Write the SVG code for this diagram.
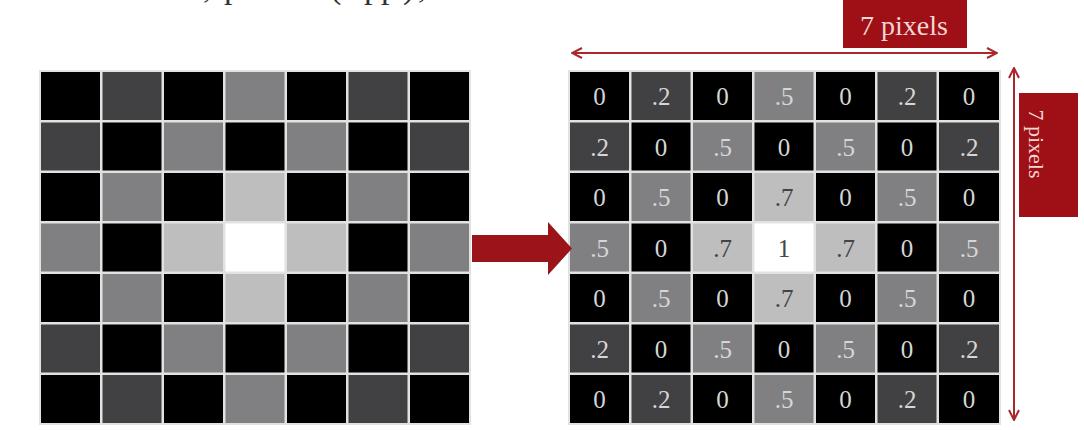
<svg xmlns="http://www.w3.org/2000/svg" width="1084" height="430" viewBox="0 0 1084 430">
<defs>
<style>
.B{fill:#000}.D{fill:#414042}.M{fill:#808082}.L{fill:#bebebe}.W{fill:#fff}
.t{font-family:"Liberation Serif",serif;font-size:25px;text-anchor:middle;fill:#d6d6d6}
.td{fill:#444}
.lbl{font-family:"Liberation Serif",serif;text-anchor:middle;fill:#f3d6d6}
.dim{stroke:#a8282c;stroke-width:2;fill:none}
</style>
<marker id="ah" viewBox="0 0 12 12" refX="11" refY="6" markerWidth="12" markerHeight="12" markerUnits="userSpaceOnUse" orient="auto-start-reverse">
<path d="M1,1 L11,6 L1,11" fill="none" stroke="#a8282c" stroke-width="2"/>
</marker>
</defs>
<rect width="1084" height="430" fill="#fff"/>
<text font-family="Liberation Serif,serif" font-size="34" fill="#333"><tspan x="203" y="-2">,</tspan><tspan x="224" y="-2">p</tspan><tspan x="330" y="-2">(</tspan><tspan x="364" y="-2">p</tspan><tspan x="381" y="-2">p</tspan><tspan x="403" y="-2">)</tspan><tspan x="418" y="-2">,</tspan></text>

<g id="input-image">
<rect x="39" y="70" width="432" height="355" fill="#e2e2e2"/>
<g>
<rect class="B" x="41" y="72" width="59" height="48"/><rect class="D" x="102.5" y="72" width="59" height="48"/><rect class="B" x="164" y="72" width="59" height="48"/><rect class="M" x="225.5" y="72" width="59" height="48"/><rect class="B" x="287" y="72" width="59" height="48"/><rect class="D" x="348.5" y="72" width="59" height="48"/><rect class="B" x="410" y="72" width="59" height="48"/>
<rect class="D" x="41" y="122.5" width="59" height="48"/><rect class="B" x="102.5" y="122.5" width="59" height="48"/><rect class="M" x="164" y="122.5" width="59" height="48"/><rect class="B" x="225.5" y="122.5" width="59" height="48"/><rect class="M" x="287" y="122.5" width="59" height="48"/><rect class="B" x="348.5" y="122.5" width="59" height="48"/><rect class="D" x="410" y="122.5" width="59" height="48"/>
<rect class="B" x="41" y="173" width="59" height="48"/><rect class="M" x="102.5" y="173" width="59" height="48"/><rect class="B" x="164" y="173" width="59" height="48"/><rect class="L" x="225.5" y="173" width="59" height="48"/><rect class="B" x="287" y="173" width="59" height="48"/><rect class="M" x="348.5" y="173" width="59" height="48"/><rect class="B" x="410" y="173" width="59" height="48"/>
<rect class="M" x="41" y="223.5" width="59" height="48"/><rect class="B" x="102.5" y="223.5" width="59" height="48"/><rect class="L" x="164" y="223.5" width="59" height="48"/><rect class="W" x="225.5" y="223.5" width="59" height="48"/><rect class="L" x="287" y="223.5" width="59" height="48"/><rect class="B" x="348.5" y="223.5" width="59" height="48"/><rect class="M" x="410" y="223.5" width="59" height="48"/>
<rect class="B" x="41" y="274" width="59" height="48"/><rect class="M" x="102.5" y="274" width="59" height="48"/><rect class="B" x="164" y="274" width="59" height="48"/><rect class="L" x="225.5" y="274" width="59" height="48"/><rect class="B" x="287" y="274" width="59" height="48"/><rect class="M" x="348.5" y="274" width="59" height="48"/><rect class="B" x="410" y="274" width="59" height="48"/>
<rect class="D" x="41" y="324.5" width="59" height="48"/><rect class="B" x="102.5" y="324.5" width="59" height="48"/><rect class="M" x="164" y="324.5" width="59" height="48"/><rect class="B" x="225.5" y="324.5" width="59" height="48"/><rect class="M" x="287" y="324.5" width="59" height="48"/><rect class="B" x="348.5" y="324.5" width="59" height="48"/><rect class="D" x="410" y="324.5" width="59" height="48"/>
<rect class="B" x="41" y="375" width="59" height="48"/><rect class="D" x="102.5" y="375" width="59" height="48"/><rect class="B" x="164" y="375" width="59" height="48"/><rect class="M" x="225.5" y="375" width="59" height="48"/><rect class="B" x="287" y="375" width="59" height="48"/><rect class="D" x="348.5" y="375" width="59" height="48"/><rect class="B" x="410" y="375" width="59" height="48"/>
</g>
</g>

<g id="output-matrix">
<rect x="568" y="70" width="433" height="355" fill="#e2e2e2"/>
<g>
<rect class="B" x="570" y="72" width="59" height="48"/><rect class="D" x="631.5" y="72" width="59" height="48"/><rect class="B" x="693" y="72" width="59" height="48"/><rect class="M" x="754.5" y="72" width="59" height="48"/><rect class="B" x="816" y="72" width="59" height="48"/><rect class="D" x="877.5" y="72" width="59" height="48"/><rect class="B" x="939" y="72" width="60" height="48"/>
<rect class="D" x="570" y="122.5" width="59" height="48"/><rect class="B" x="631.5" y="122.5" width="59" height="48"/><rect class="M" x="693" y="122.5" width="59" height="48"/><rect class="B" x="754.5" y="122.5" width="59" height="48"/><rect class="M" x="816" y="122.5" width="59" height="48"/><rect class="B" x="877.5" y="122.5" width="59" height="48"/><rect class="D" x="939" y="122.5" width="60" height="48"/>
<rect class="B" x="570" y="173" width="59" height="48"/><rect class="M" x="631.5" y="173" width="59" height="48"/><rect class="B" x="693" y="173" width="59" height="48"/><rect class="L" x="754.5" y="173" width="59" height="48"/><rect class="B" x="816" y="173" width="59" height="48"/><rect class="M" x="877.5" y="173" width="59" height="48"/><rect class="B" x="939" y="173" width="60" height="48"/>
<rect class="M" x="570" y="223.5" width="59" height="48"/><rect class="B" x="631.5" y="223.5" width="59" height="48"/><rect class="L" x="693" y="223.5" width="59" height="48"/><rect class="W" x="754.5" y="223.5" width="59" height="48"/><rect class="L" x="816" y="223.5" width="59" height="48"/><rect class="B" x="877.5" y="223.5" width="59" height="48"/><rect class="M" x="939" y="223.5" width="60" height="48"/>
<rect class="B" x="570" y="274" width="59" height="48"/><rect class="M" x="631.5" y="274" width="59" height="48"/><rect class="B" x="693" y="274" width="59" height="48"/><rect class="L" x="754.5" y="274" width="59" height="48"/><rect class="B" x="816" y="274" width="59" height="48"/><rect class="M" x="877.5" y="274" width="59" height="48"/><rect class="B" x="939" y="274" width="60" height="48"/>
<rect class="D" x="570" y="324.5" width="59" height="48"/><rect class="B" x="631.5" y="324.5" width="59" height="48"/><rect class="M" x="693" y="324.5" width="59" height="48"/><rect class="B" x="754.5" y="324.5" width="59" height="48"/><rect class="M" x="816" y="324.5" width="59" height="48"/><rect class="B" x="877.5" y="324.5" width="59" height="48"/><rect class="D" x="939" y="324.5" width="60" height="48"/>
<rect class="B" x="570" y="375" width="59" height="48"/><rect class="D" x="631.5" y="375" width="59" height="48"/><rect class="B" x="693" y="375" width="59" height="48"/><rect class="M" x="754.5" y="375" width="59" height="48"/><rect class="B" x="816" y="375" width="59" height="48"/><rect class="D" x="877.5" y="375" width="59" height="48"/><rect class="B" x="939" y="375" width="60" height="48"/>
</g>
<g class="t">
<text x="599.5" y="105">0</text><text x="661" y="105">.2</text><text x="722.5" y="105">0</text><text x="784" y="105">.5</text><text x="845.5" y="105">0</text><text x="907" y="105">.2</text><text x="969" y="105">0</text>
<text x="599.5" y="155.5">.2</text><text x="661" y="155.5">0</text><text x="722.5" y="155.5">.5</text><text x="784" y="155.5">0</text><text x="845.5" y="155.5">.5</text><text x="907" y="155.5">0</text><text x="969" y="155.5">.2</text>
<text x="599.5" y="206">0</text><text x="661" y="206">.5</text><text x="722.5" y="206">0</text><text class="t td" x="784" y="206">.7</text><text x="845.5" y="206">0</text><text x="907" y="206">.5</text><text x="969" y="206">0</text>
<text x="599.5" y="256.5">.5</text><text x="661" y="256.5">0</text><text class="t td" x="722.5" y="256.5">.7</text><text class="t td" x="784" y="256.5">1</text><text class="t td" x="845.5" y="256.5">.7</text><text x="907" y="256.5">0</text><text x="969" y="256.5">.5</text>
<text x="599.5" y="307">0</text><text x="661" y="307">.5</text><text x="722.5" y="307">0</text><text class="t td" x="784" y="307">.7</text><text x="845.5" y="307">0</text><text x="907" y="307">.5</text><text x="969" y="307">0</text>
<text x="599.5" y="357.5">.2</text><text x="661" y="357.5">0</text><text x="722.5" y="357.5">.5</text><text x="784" y="357.5">0</text><text x="845.5" y="357.5">.5</text><text x="907" y="357.5">0</text><text x="969" y="357.5">.2</text>
<text x="599.5" y="408">0</text><text x="661" y="408">.2</text><text x="722.5" y="408">0</text><text x="784" y="408">.5</text><text x="845.5" y="408">0</text><text x="907" y="408">.2</text><text x="969" y="408">0</text>
</g>
</g>

<g id="connectors">
<path d="M472,235 L548,235 L548,222 L572,248.5 L548,275 L548,262 L472,262 Z" fill="#9b1419"/>
<line class="dim" x1="572" y1="53" x2="997" y2="53" marker-start="url(#ah)" marker-end="url(#ah)"/>
<line class="dim" x1="1014" y1="68" x2="1014" y2="420" marker-start="url(#ah)" marker-end="url(#ah)"/>
</g>

<g id="width-label">
<rect x="843" y="-2" width="124" height="50" fill="#9e1015"/>
<text class="lbl" font-size="28" x="904" y="35">7 pixels</text>
</g>
<g id="height-label">
<rect x="1019" y="93" width="59" height="124" fill="#9e1015"/>
<text class="lbl" font-size="22" transform="translate(1029,144) rotate(90)" x="0" y="0">7 pixels</text>
</g>
</svg>
